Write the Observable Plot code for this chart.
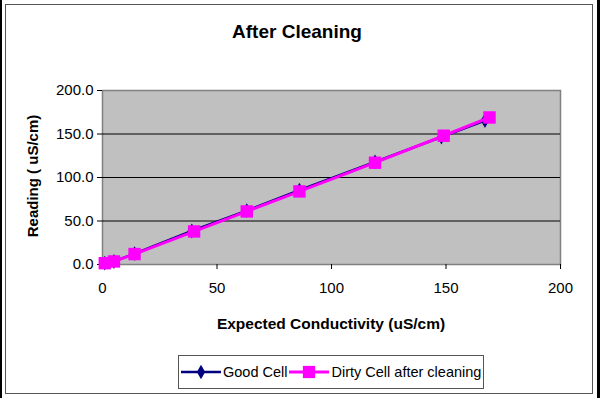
<!DOCTYPE html>
<html>
<head>
<meta charset="utf-8">
<script src="https://cdn.jsdelivr.net/npm/d3@7"></script>
<script src="https://cdn.jsdelivr.net/npm/@observablehq/plot@0.6"></script>
<style>
  html, body { margin: 0; padding: 0; background: #fff; }
  #wrap { position: relative; width: 600px; height: 398px; overflow: hidden; font-family: "Liberation Sans", Arial, sans-serif; }
  #blackL { position: absolute; left: 0; top: 0; width: 2px; height: 398px; background: #000; }
  #blackR { position: absolute; left: 597px; top: 0; width: 3px; height: 398px; background: #000; }
  #outer { position: absolute; left: 5px; top: 4px; width: 586px; height: 388px; border: 1px solid #555; }
  #chart { position: absolute; left: 0; top: 0; }
  #title { position: absolute; left: 0; width: 594px; top: 21px; text-align: center; font-weight: bold; font-size: 19px; }
  #xlabel { position: absolute; left: 102px; width: 458px; top: 315px; text-align: center; font-weight: bold; font-size: 15.5px; }
  #ylabel { position: absolute; left: 32px; top: 176px; transform: translate(-50%, -50%) rotate(-90deg); white-space: nowrap; font-weight: bold; font-size: 15px; }
  #legend { position: absolute; left: 178px; top: 355px; width: 306px; height: 34px; border: 1px solid #555; box-sizing: border-box; display: flex; align-items: center; font-size: 14.5px; }
  #legend svg { display: block; }
  .item { display: flex; align-items: center; }
</style>
</head>
<body>
<div id="wrap">
  <div id="blackL"></div>
  <div id="blackR"></div>
  <div id="outer"></div>
  <div id="chart"></div>
  <div id="title">After Cleaning</div>
  <div id="xlabel">Expected Conductivity (uS/cm)</div>
  <div id="ylabel">Reading ( uS/cm)</div>
  <div id="legend"></div>
</div>
<script>
// Data
const goodExpected  = [1, 5, 14, 39, 63, 86, 119, 148, 167];
const goodReading   = [1.5, 3.5, 12.5, 38.5, 62, 85.5, 118, 146.5, 165.5];
const dirtyExpected = [1, 5, 14, 40, 63, 86, 119, 149, 169];
const dirtyReading  = [1.5, 3.5, 12, 38, 61, 84, 117, 148, 169];
const xTicks = [0, 50, 100, 150, 200];
const yTicks = [0, 50, 100, 150, 200];
const gridY = [50, 100, 150];
const seriesNames = ["Good Cell", "Dirty Cell after cleaning"];
const seriesColors = ["#000080", "#FF00FF"];

const good = goodExpected.map((x, i) => ({x, y: goodReading[i]}));
const dirty = dirtyExpected.map((x, i) => ({x, y: dirtyReading[i]}));

const chart = Plot.plot({
  width: 600,
  height: 398,
  marginLeft: 102,
  marginRight: 40,
  marginTop: 90,
  marginBottom: 134,
  style: {fontFamily: "Liberation Sans, Arial, sans-serif", fontSize: "15px", background: "transparent", color: "#000"},
  x: {domain: [0, 200]},
  y: {domain: [0, 200]},
  marks: [
    Plot.frame({fill: "#c0c0c0", stroke: "#808080", strokeWidth: 1.5}),
    Plot.ruleY(gridY, {stroke: "#000", strokeWidth: 1}),
    Plot.axisY({ticks: yTicks, tickFormat: d => d.toFixed(1), tickSize: 5, tickPadding: 4, fontSize: 15, label: null}),
    Plot.axisX({ticks: xTicks, tickFormat: d => String(d), tickSize: 5, tickPadding: 13, fontSize: 15, label: null}),
    Plot.line(good, {x: "x", y: "y", stroke: seriesColors[0], strokeWidth: 2.5}),
    Plot.dot(good, {x: "x", y: "y", symbol: "diamond", r: 4.5, fill: seriesColors[0], stroke: "none"}),
    Plot.line(dirty, {x: "x", y: "y", stroke: seriesColors[1], strokeWidth: 3}),
    Plot.dot(dirty, {x: "x", y: "y", symbol: "square", r: 7, fill: seriesColors[1], stroke: "none"})
  ]
});
document.getElementById("chart").appendChild(chart);

// Legend
const legend = document.getElementById("legend");
seriesNames.forEach((name, i) => {
  const item = document.createElement("div");
  item.className = "item";
  const sw = d3.create("svg").attr("width", 44).attr("height", 20);
  sw.append("line").attr("x1", 2).attr("x2", 42).attr("y1", 10).attr("y2", 10)
    .attr("stroke", seriesColors[i]).attr("stroke-width", i ? 3 : 2.5);
  const sym = d3.symbol().type(i ? d3.symbolSquare : d3.symbolDiamond).size(i ? 150 : 60);
  sw.append("path").attr("d", sym()).attr("transform", "translate(22,10)").attr("fill", seriesColors[i]);
  item.appendChild(sw.node());
  const t = document.createElement("span");
  t.textContent = name;
  item.appendChild(t);
  legend.appendChild(item);
});
</script>
</body>
</html>
